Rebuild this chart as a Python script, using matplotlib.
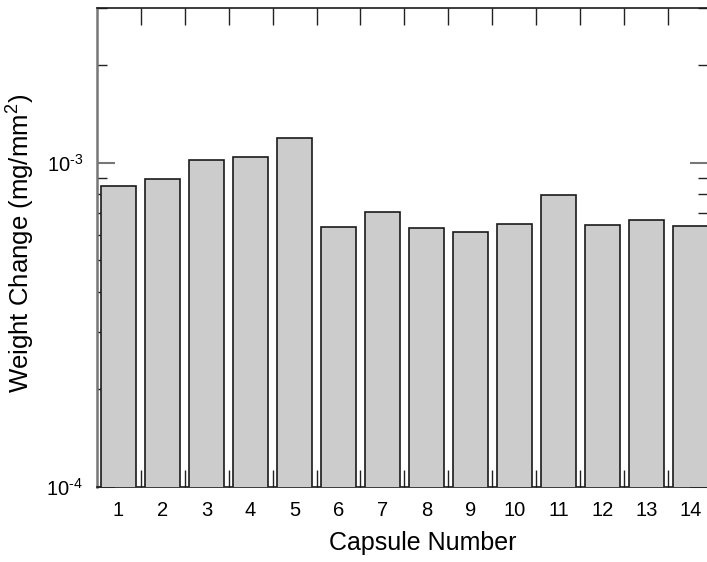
import matplotlib
matplotlib.use("Agg")
import matplotlib.pyplot as plt
from matplotlib.ticker import FixedLocator, NullFormatter, LogLocator
import numpy as np

plt.rcParams['font.family'] = ['Liberation Sans', 'DejaVu Sans']
plt.rcParams['mathtext.fontset'] = 'custom'
plt.rcParams['mathtext.rm'] = 'Liberation Sans'
plt.rcParams['mathtext.it'] = 'Liberation Sans'
plt.rcParams['mathtext.bf'] = 'Liberation Sans'

capsules = list(range(1, 15))
capsule_labels = [str(c) for c in capsules]
weight_change = [8.47e-4, 8.88e-4, 1.016e-3, 1.038e-3, 1.19e-3, 6.35e-4, 7.04e-4,
                 6.27e-4, 6.11e-4, 6.47e-4, 7.96e-4, 6.44e-4, 6.68e-4, 6.40e-4]
y_tick_values = [1e-4, 1e-3]
y_tick_labels = ['$10^{\\text{-4}}$', '$10^{\\text{-3}}$']

fig = plt.figure(figsize=(7.07, 5.62), dpi=100)
ax_left, ax_right, ax_top, ax_bottom = 97, 708, 8, 487
ax = fig.add_axes([ax_left/707, 1-ax_bottom/562, (ax_right-ax_left)/707, (ax_bottom-ax_top)/562])

ax.bar(capsules, weight_change, width=0.8, color='#cccccc', edgecolor='#1a1a1a',
       linewidth=1.2, zorder=3)

ax.set_yscale('log')
ax.set_ylim(1e-4, 3e-3)
ax.set_xlim(0.51, 14.4)

ax.yaxis.set_major_locator(FixedLocator(y_tick_values))
ax.set_yticklabels(y_tick_labels)
ax.yaxis.set_minor_locator(LogLocator(base=10, subs=np.arange(2, 10)))
ax.yaxis.set_minor_formatter(NullFormatter())

# x: labels at bar centres, ticks in gaps
ax.set_xticks(capsules)
ax.set_xticklabels(capsule_labels)
ax.tick_params(axis='x', which='major', length=0, labelsize=14.5, pad=10)
ax.xaxis.set_minor_locator(FixedLocator([c + 0.5 for c in capsules[:-1]]))
ax.tick_params(axis='x', which='minor', direction='in', length=12, width=1,
               top=True, bottom=True, color='#222222')

ax.tick_params(axis='y', which='major', direction='in', length=13, width=1.5,
               left=True, right=True, labelsize=14.5, color='#777777', pad=10)
ax.tick_params(axis='y', which='minor', direction='in', length=7, width=1,
               left=True, right=True, color='#222222')

ax.spines['left'].set_color('#777777')
ax.spines['left'].set_linewidth(1.8)
for side in ['top', 'bottom', 'right']:
    ax.spines[side].set_color('#1a1a1a')
    ax.spines[side].set_linewidth(1.2)

w = ax_right - ax_left
h = ax_bottom - ax_top
ax.set_xlabel('Capsule Number', fontsize=18)
ax.xaxis.set_label_coords((423 - ax_left) / w, (ax_bottom - 531) / h)
ax.set_ylabel('Weight Change (mg/mm$^2$)', fontsize=18.5)
ax.yaxis.set_label_coords((37 - ax_left) / w, (ax_bottom - 243) / h)

fig.savefig('out.png', dpi=100)
